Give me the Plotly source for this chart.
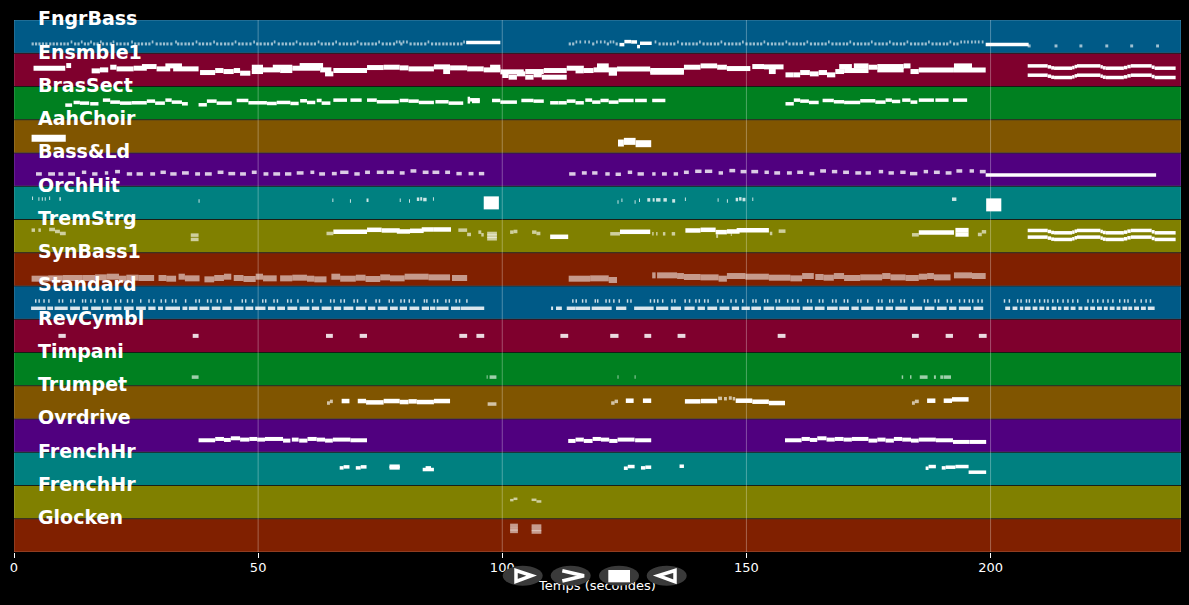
import plotly.graph_objects as go

TRACK_NAMES = ["FngrBass", "Ensmble1", "BrasSect", "AahChoir", "Bass&Ld", "OrchHit", "TremStrg", "SynBass1",
               "Standard", "RevCymbl", "Timpani", "Trumpet", "Ovrdrive", "FrenchHr", "FrenchHr", "Glocken"]
BAND_COLORS = ["#005a87", "#7f002d", "#008020", "#805500", "#50007f", "#008080", "#808000", "#802000"]
X_TICKS = [0, 50, 100, 150, 200]

# notes are (start seconds, end seconds, height inside the track, 0 = top of band, 1 = bottom)
FNGR_LOW = [3.6, 4.3, 5.0, 5.7, 6.4, 7.2, 7.9, 8.6, 9.4, 10.1, 10.8, 12.3, 13.0, 14.3, 15.0, 16.2, 16.9, 18.0, 18.8,
            19.6, 20.9, 21.6, 22.4, 23.1, 24.6, 25.3, 26.0, 26.8, 27.5, 29.0, 29.8, 30.5, 31.2, 32.0, 33.4, 34.1, 34.9,
            35.6, 36.4, 37.8, 38.5, 39.3, 40.0, 41.4, 42.2, 43.0, 43.7, 44.5, 45.9, 46.6, 47.4, 48.2, 49.6, 50.3, 51.1,
            51.8, 52.6, 54.0, 54.8, 55.5, 56.3, 57.0, 58.4, 59.2, 59.9, 60.7, 61.4, 62.8, 63.6, 64.3, 65.1, 66.5, 67.3,
            68.0, 68.8, 69.5, 70.9, 71.7, 72.4, 73.2, 73.9, 75.3, 76.1, 76.8, 77.6, 79.1, 81.0, 81.8, 82.5, 83.2, 84.0,
            85.4, 86.2, 86.9, 87.7, 88.4, 89.2, 89.9, 90.7, 91.4]
FNGR_HIGH = [11.6, 13.7, 15.6, 17.6, 20.2, 24.0, 28.2, 33.0, 37.2, 40.8, 45.2, 49.0, 53.2, 57.7, 62.2, 65.8, 70.2,
             74.6, 78.2, 78.8, 79.6, 80.3, 84.7, 92.0, 115.0, 115.8, 116.8, 117.6, 119.2, 120.0, 120.8, 122.0, 122.6]
FNGR_LOW_2 = [113.6, 114.3, 118.4, 121.4, 123.2, 132.0, 132.8, 133.5, 134.3, 135.0, 136.6, 137.4, 138.1, 138.9, 139.6,
              141.0, 141.8, 142.5, 143.3, 144.0, 145.4, 146.2, 146.9, 147.7, 148.4, 149.8, 150.6, 151.3, 152.1, 152.8,
              154.2, 155.0, 155.7, 156.5, 157.2, 158.6, 159.4, 160.1, 160.9, 161.6, 163.0, 163.8, 164.5, 165.3, 166.0,
              167.4, 168.2, 168.9, 169.7, 170.4, 171.8, 172.6, 173.3, 174.1, 174.8, 176.2, 177.0, 177.7, 178.5, 179.9,
              180.6, 181.4, 182.1, 183.5, 184.3, 185.0, 185.8, 186.5, 187.9, 188.7, 189.4, 190.2, 190.9, 192.3, 193.0]
FNGR_HIGH_2 = [131.2, 135.8, 140.3, 144.7, 149.1, 153.5, 158.0, 162.3, 166.7, 171.1, 175.5, 179.2, 182.8, 187.2,
               191.6, 193.8, 194.5, 195.2, 196.0, 196.7, 197.4, 198.2]
FNGR_TAIL = [207.6, 213.1, 218.2, 223.5, 228.6, 233.9]
FNGR_BARS = [(92.6, 99.6, 0.68), (124.0, 125.0, 0.74), (125.0, 126.4, 0.65), (126.4, 127.6, 0.66), (127.6, 128.2, 0.8),
             (128.2, 130.6, 0.7), (199.0, 207.8, 0.74)]

ENSEMBLE_NOTES = [
    (4.0, 10.5, 0.45), (10.7, 11.7, 0.37), (15.9, 17.6, 0.53), (17.6, 19.3, 0.5), (19.7, 21.0, 0.42), (21.0, 24.5, 0.47),
    (24.5, 27.2, 0.45), (26.2, 29.2, 0.4), (29.2, 32.0, 0.47), (31.0, 34.4, 0.38), (32.6, 37.8, 0.47), (38.1, 41.2, 0.58),
    (41.2, 42.9, 0.52), (42.9, 45.0, 0.55), (45.0, 46.3, 0.52), (46.3, 48.4, 0.6), (48.7, 51.0, 0.42), (48.7, 51.0, 0.55),
    (51.0, 54.5, 0.5), (53.0, 57.0, 0.42), (54.5, 57.0, 0.52), (57.0, 62.7, 0.45), (58.5, 63.3, 0.37), (62.7, 65.0, 0.5),
    (63.7, 65.4, 0.62), (65.4, 72.3, 0.52), (72.3, 75.7, 0.43), (75.7, 79.0, 0.42), (79.0, 80.8, 0.44), (80.8, 86.0, 0.47),
    (86.0, 89.3, 0.41), (87.9, 89.3, 0.55), (89.3, 92.8, 0.44), (92.8, 96.2, 0.47), (96.2, 99.6, 0.5), (97.5, 99.6, 0.42),
    (99.6, 104.4, 0.56), (100.0, 101.3, 0.67), (101.3, 103.0, 0.72), (103.0, 104.7, 0.62), (104.7, 106.4, 0.72),
    (106.4, 108.1, 0.65), (108.1, 113.2, 0.72), (104.7, 108.5, 0.55), (108.5, 113.2, 0.52), (113.2, 116.7, 0.45),
    (115.0, 116.7, 0.53), (116.7, 118.7, 0.52), (118.7, 123.5, 0.5), (119.4, 121.8, 0.38), (121.8, 123.5, 0.6),
    (123.5, 130.3, 0.47), (130.3, 137.2, 0.52), (130.3, 137.2, 0.57), (137.2, 140.6, 0.42), (140.6, 144.0, 0.38),
    (144.0, 146.0, 0.42), (146.0, 150.8, 0.46), (151.2, 153.6, 0.4), (153.6, 157.6, 0.41), (154.6, 156.0, 0.55),
    (158.0, 159.7, 0.65), (159.7, 161.0, 0.65), (161.0, 163.0, 0.58), (163.0, 164.8, 0.62), (164.8, 166.5, 0.58),
    (166.5, 168.2, 0.65), (168.2, 170.0, 0.55), (169.0, 171.6, 0.4), (170.0, 175.0, 0.52), (172.0, 175.0, 0.38),
    (175.0, 176.8, 0.42), (176.8, 182.2, 0.4), (176.8, 182.2, 0.5), (182.2, 183.6, 0.38), (183.6, 185.3, 0.55),
    (185.3, 192.5, 0.5), (192.5, 196.2, 0.38), (192.5, 199.0, 0.5),
]
ENSEMBLE_THIN = [
    (207.6, 211.7, 0.38), (211.7, 212.4, 0.41), (212.4, 213.0, 0.44), (213.0, 216.7, 0.45), (216.7, 217.2, 0.43),
    (217.2, 217.7, 0.4), (217.7, 222.5, 0.38), (222.5, 223.0, 0.41), (223.0, 223.6, 0.44), (223.6, 227.3, 0.45),
    (227.3, 228.0, 0.43), (228.0, 228.7, 0.4), (228.7, 233.0, 0.38), (233.0, 233.6, 0.42), (233.6, 237.9, 0.45),
    (207.6, 211.7, 0.66), (211.7, 212.4, 0.69), (212.4, 213.0, 0.72), (213.0, 216.7, 0.73), (216.7, 217.2, 0.71),
    (217.2, 217.7, 0.68), (217.7, 222.5, 0.66), (222.5, 223.0, 0.69), (223.0, 223.6, 0.72), (223.6, 227.3, 0.73),
    (227.3, 228.0, 0.71), (228.0, 228.7, 0.68), (228.7, 233.0, 0.66), (233.0, 233.6, 0.7), (233.6, 237.9, 0.73),
]
BRASS_NOTES = [
    (10.5, 11.9, 0.56), (12.2, 13.5, 0.48), (13.5, 15.4, 0.5), (15.6, 17.3, 0.52), (18.2, 19.7, 0.41), (19.7, 21.7, 0.47),
    (21.7, 24.1, 0.5), (24.1, 27.2, 0.49), (27.2, 28.9, 0.44), (28.9, 30.9, 0.5), (31.0, 32.3, 0.41), (32.3, 34.4, 0.47),
    (34.4, 35.6, 0.52), (37.8, 39.5, 0.55), (39.5, 41.5, 0.44), (41.5, 44.6, 0.5), (45.6, 48.0, 0.42), (48.0, 51.8, 0.49),
    (51.8, 53.8, 0.51), (53.8, 56.6, 0.48), (56.6, 58.3, 0.51), (58.6, 60.0, 0.43), (60.0, 61.7, 0.48), (62.0, 63.0, 0.42),
    (63.0, 64.8, 0.5), (65.4, 68.2, 0.41), (68.9, 71.2, 0.41), (72.3, 74.3, 0.41), (74.3, 78.8, 0.46), (79.0, 80.8, 0.42),
    (80.8, 82.9, 0.44), (82.9, 86.0, 0.48), (86.3, 89.0, 0.46), (89.0, 92.0, 0.5), (92.9, 93.4, 0.36), (92.9, 93.4, 0.46),
    (93.4, 95.4, 0.4), (93.8, 95.4, 0.45), (97.9, 99.6, 0.42), (99.6, 103.0, 0.47), (103.9, 106.4, 0.42), (106.4, 108.5, 0.44),
    (109.8, 111.5, 0.49), (111.5, 113.2, 0.49), (113.2, 115.0, 0.44), (115.0, 116.7, 0.49), (117.0, 118.4, 0.41),
    (118.4, 120.1, 0.47), (120.1, 121.8, 0.42), (121.8, 123.8, 0.47), (123.8, 126.9, 0.42), (127.2, 129.6, 0.42),
    (130.7, 133.4, 0.42), (158.0, 159.7, 0.52), (159.7, 161.0, 0.41), (161.0, 162.8, 0.44), (162.8, 164.8, 0.48),
    (165.6, 167.9, 0.42), (167.9, 170.0, 0.46), (170.0, 173.3, 0.48), (173.3, 176.4, 0.43), (176.4, 178.5, 0.47),
    (178.5, 179.8, 0.41), (179.8, 181.5, 0.45), (181.9, 183.6, 0.41), (183.6, 185.0, 0.47), (185.3, 188.4, 0.41),
    (188.7, 191.4, 0.41), (192.3, 195.2, 0.41),
]
AAH_NOTES = [(3.6, 10.6, 0.56), (123.7, 124.9, 0.7), (124.9, 127.3, 0.65), (127.3, 130.5, 0.72)]
BASS_LD_NOTES = [
    (4.5, 5.7, 0.63), (7.0, 8.4, 0.63), (9.1, 10.1, 0.63), (11.1, 12.5, 0.63), (13.9, 14.8, 0.58), (16.0, 17.1, 0.63),
    (18.6, 19.3, 0.6), (20.7, 21.7, 0.56), (23.1, 24.2, 0.63), (25.1, 26.4, 0.63), (27.9, 28.9, 0.63), (30.0, 31.1, 0.58),
    (32.0, 33.3, 0.63), (34.4, 35.8, 0.6), (37.1, 38.1, 0.63), (39.1, 40.5, 0.63), (41.7, 42.9, 0.58), (43.9, 45.3, 0.62),
    (46.3, 47.5, 0.63), (48.7, 49.7, 0.58), (51.1, 52.1, 0.63), (53.1, 54.5, 0.63), (55.5, 56.8, 0.63), (57.9, 59.3, 0.6),
    (60.7, 61.5, 0.58), (62.5, 63.7, 0.63), (65.1, 66.1, 0.62), (66.8, 68.5, 0.58), (69.7, 70.8, 0.63), (71.9, 72.9, 0.58),
    (74.3, 75.7, 0.58), (76.4, 77.8, 0.58), (79.0, 80.0, 0.6), (81.2, 82.4, 0.54), (83.7, 84.9, 0.58), (85.7, 87.1, 0.58),
    (88.3, 89.3, 0.58), (90.6, 91.7, 0.62), (93.1, 94.1, 0.62), (95.2, 96.3, 0.62), (113.7, 115.0, 0.63), (116.3, 117.3, 0.6),
    (118.4, 119.5, 0.6), (121.1, 122.0, 0.63), (123.2, 124.3, 0.64), (125.7, 126.6, 0.58), (127.7, 129.0, 0.63),
    (130.7, 131.4, 0.63), (132.7, 133.7, 0.63), (135.1, 136.0, 0.63), (137.2, 138.2, 0.58), (139.5, 140.8, 0.55),
    (141.5, 143.0, 0.55), (144.3, 145.2, 0.6), (146.5, 147.7, 0.53), (148.8, 150.0, 0.56), (151.0, 152.4, 0.56),
    (153.7, 154.6, 0.58), (155.7, 156.9, 0.6), (158.3, 159.3, 0.6), (160.4, 161.6, 0.58), (162.9, 163.9, 0.62),
    (165.1, 166.3, 0.54), (167.5, 168.6, 0.56), (169.8, 171.0, 0.58), (172.3, 173.5, 0.6), (174.4, 175.5, 0.6),
    (177.1, 178.0, 0.56), (179.1, 180.2, 0.6), (181.5, 182.6, 0.58), (183.5, 185.0, 0.62), (186.3, 187.2, 0.56),
    (188.4, 189.6, 0.58), (190.8, 192.0, 0.6), (193.0, 194.2, 0.54), (195.7, 196.6, 0.54), (197.8, 199.0, 0.56),
]
BASS_LD_LONG = [(199.0, 233.9, 0.66)]
ORCH_TICKS = [
    (3.7, 3.9, 0.36), (5.0, 5.2, 0.38), (5.7, 5.9, 0.38), (6.3, 6.5, 0.38), (7.2, 7.4, 0.36), (9.3, 9.6, 0.38),
    (37.8, 38.0, 0.44), (65.2, 65.4, 0.42), (68.8, 69.0, 0.44), (72.2, 72.6, 0.42), (79.0, 79.2, 0.42), (80.9, 81.1, 0.44),
    (82.5, 83.0, 0.39), (83.2, 83.6, 0.38), (83.8, 84.5, 0.4), (85.8, 86.0, 0.38), (123.6, 123.8, 0.47), (124.4, 124.6, 0.42),
    (127.1, 127.3, 0.47), (128.0, 128.2, 0.42), (129.7, 130.3, 0.41), (130.8, 131.2, 0.41), (131.5, 132.4, 0.41),
    (133.0, 133.7, 0.41), (134.8, 135.4, 0.44), (137.4, 137.6, 0.39), (144.1, 144.3, 0.41), (146.0, 146.2, 0.44),
    (147.8, 148.3, 0.4), (148.5, 149.0, 0.38), (149.2, 149.8, 0.4), (151.2, 151.4, 0.39), (192.1, 193.0, 0.39),
]
ORCH_BLOCKS = [(96.2, 99.3, 0.5), (199.1, 202.2, 0.56)]
TREM_PALE = [
    (3.6, 4.3, 0.32), (5.0, 5.5, 0.32), (7.2, 8.4, 0.3), (8.4, 9.4, 0.36), (9.4, 10.6, 0.42), (36.2, 37.8, 0.47),
    (36.2, 37.8, 0.6), (64.0, 65.4, 0.42), (92.8, 93.6, 0.45), (91.0, 92.8, 0.32), (95.1, 95.7, 0.38), (95.7, 96.2, 0.46),
    (96.9, 98.9, 0.42), (96.9, 98.9, 0.5), (96.9, 98.9, 0.58), (101.6, 102.3, 0.38), (102.3, 103.1, 0.36), (106.1, 107.0, 0.38),
    (107.0, 107.8, 0.42), (122.1, 124.1, 0.43), (130.7, 131.0, 0.43), (131.5, 131.8, 0.43), (132.9, 133.4, 0.43),
    (134.7, 135.4, 0.43), (143.8, 144.2, 0.5), (146.8, 147.0, 0.44), (154.8, 155.3, 0.42), (156.6, 158.0, 0.35),
    (183.9, 185.3, 0.46), (197.4, 198.2, 0.45), (198.2, 199.1, 0.37),
]
TREM_NOTES = [
    (65.4, 72.3, 0.37), (72.3, 75.3, 0.31), (75.3, 79.0, 0.33), (78.4, 81.1, 0.36), (81.1, 83.9, 0.34), (83.5, 86.0, 0.3),
    (86.0, 89.5, 0.3), (109.8, 113.5, 0.52), (124.1, 130.3, 0.37), (137.5, 140.6, 0.33), (140.6, 143.7, 0.31),
    (143.7, 146.0, 0.38), (146.0, 148.6, 0.36), (148.0, 154.6, 0.32), (185.3, 192.5, 0.39), (192.8, 195.5, 0.32),
    (192.8, 195.5, 0.45),
]
TREM_THIN = [
    (207.6, 211.7, 0.33), (211.7, 212.4, 0.36), (212.4, 213.0, 0.39), (213.0, 216.7, 0.4), (216.7, 217.2, 0.38),
    (217.2, 217.7, 0.35), (217.7, 222.5, 0.33), (222.5, 223.0, 0.36), (223.0, 223.6, 0.39), (223.6, 227.3, 0.4),
    (227.3, 228.0, 0.38), (228.0, 228.7, 0.35), (228.7, 233.0, 0.33), (233.0, 233.6, 0.37), (233.6, 237.9, 0.4),
    (207.6, 211.7, 0.53), (211.7, 212.4, 0.56), (212.4, 213.0, 0.59), (213.0, 216.7, 0.6), (216.7, 217.2, 0.58),
    (217.2, 217.7, 0.55), (217.7, 222.5, 0.53), (222.5, 223.0, 0.56), (223.0, 223.6, 0.59), (223.6, 227.3, 0.6),
    (227.3, 228.0, 0.58), (228.0, 228.7, 0.55), (228.7, 233.0, 0.53), (233.0, 233.6, 0.57), (233.6, 237.9, 0.6),
]
SYNBASS_NOTES = [
    (3.6, 7.0, 0.78), (7.0, 10.0, 0.77), (10.0, 14.0, 0.76), (14.0, 16.6, 0.76), (16.6, 19.0, 0.74), (19.0, 21.5, 0.72),
    (21.5, 23.0, 0.78), (23.0, 25.5, 0.75), (25.5, 28.7, 0.76), (29.6, 31.2, 0.76), (31.2, 33.2, 0.78), (33.7, 35.0, 0.72),
    (35.0, 38.0, 0.77), (39.0, 41.0, 0.8), (41.0, 43.0, 0.76), (43.0, 44.5, 0.72), (45.0, 47.0, 0.76), (47.0, 49.5, 0.79),
    (49.5, 51.0, 0.72), (51.0, 53.8, 0.77), (54.5, 57.0, 0.77), (57.0, 60.0, 0.75), (60.0, 61.5, 0.78), (61.5, 64.0, 0.8),
    (65.0, 66.8, 0.72), (66.8, 70.0, 0.78), (70.0, 72.0, 0.75), (72.0, 75.0, 0.79), (75.0, 77.0, 0.74), (77.0, 80.0, 0.77),
    (80.0, 81.1, 0.72), (81.1, 84.9, 0.72), (84.9, 89.3, 0.74), (89.7, 92.8, 0.76), (113.6, 118.0, 0.78), (118.0, 121.8, 0.77),
    (121.8, 123.5, 0.82), (130.7, 131.4, 0.68), (131.7, 135.8, 0.68), (135.8, 137.2, 0.7), (137.2, 140.6, 0.73),
    (140.6, 144.3, 0.74), (144.3, 146.0, 0.78), (146.0, 149.8, 0.7), (149.8, 154.6, 0.72), (154.6, 159.0, 0.75),
    (159.0, 161.4, 0.77), (161.4, 163.8, 0.7), (164.1, 165.8, 0.73), (165.8, 167.9, 0.75), (167.9, 170.0, 0.7),
    (170.0, 173.3, 0.76), (173.3, 177.8, 0.74), (177.8, 179.5, 0.7), (179.5, 182.6, 0.74), (182.6, 185.3, 0.76),
    (185.3, 187.0, 0.72), (187.0, 188.4, 0.7), (188.4, 191.8, 0.74), (192.5, 196.2, 0.68), (196.2, 199.0, 0.7),
]
STANDARD_TOP = [4.3, 5.0, 6.0, 7.0, 9.1, 9.8, 11.5, 12.2, 13.9, 14.5, 15.6, 16.4, 18.0, 19.0, 20.7, 21.7, 23.1, 24.1, 25.8,
                27.5, 28.5, 30.0, 30.9, 32.3, 33.0, 35.0, 37.1, 37.8, 39.5, 40.2, 41.5, 42.2, 44.3, 46.6, 47.3, 48.7, 50.8,
                51.4, 53.1, 53.8, 55.9, 56.6, 58.0, 60.0, 61.0, 62.7, 64.7, 65.4, 66.8, 67.5, 69.5, 70.2, 71.9, 74.0, 74.7,
                76.7, 77.4, 79.1, 79.8, 80.8, 81.8, 83.9, 84.4, 85.9, 86.6, 88.3, 89.0, 90.4, 91.1, 92.6, 114.3, 115.0,
                116.3, 117.0, 118.9, 119.4, 121.1, 121.8, 122.7, 123.8, 125.5, 126.2, 130.2, 131.0, 131.7, 132.7, 134.6,
                135.2, 137.3, 138.2, 139.5, 140.2, 141.3, 142.0, 144.0, 145.0, 146.7, 147.7, 149.1, 151.2, 151.8, 153.6,
                154.2, 155.9, 156.6, 158.3, 159.3, 160.4, 162.4, 163.1, 164.8, 165.5, 167.5, 168.2, 169.9, 170.6, 172.7,
                173.3, 174.7, 176.9, 177.6, 179.2, 179.8, 181.5, 182.2, 183.9, 186.3, 187.0, 188.5, 189.2, 191.0, 191.8,
                193.5, 194.5, 195.5, 196.2, 197.3, 198.1, 202.7, 203.7, 205.4, 206.1, 207.2, 207.8, 208.9, 209.9, 210.9,
                211.6, 212.6, 213.6, 214.7, 215.7, 216.7, 217.7, 219.8, 220.8, 221.8, 222.9, 223.9, 224.9, 226.3, 227.3,
                228.0, 229.4, 230.7, 231.7, 232.6]
STANDARD_ROW = [
    (3.5, 6.5), (6.8, 8.0), (8.3, 11.0), (11.5, 13.5), (14.0, 15.2), (15.8, 17.8), (18.2, 20.0), (20.4, 22.0), (22.5, 24.5),
    (25.0, 27.0), (27.5, 29.0), (29.5, 30.5), (31.0, 34.0), (34.5, 35.5), (35.8, 37.6), (38.0, 40.0), (40.5, 42.3),
    (42.7, 44.5), (45.0, 47.0), (47.4, 49.0), (49.4, 51.5), (52.0, 53.5), (53.9, 55.5), (56.0, 58.0), (58.5, 60.5),
    (61.0, 62.5), (63.0, 65.0), (65.5, 67.0), (67.5, 69.5), (70.0, 72.0), (72.5, 74.0), (74.5, 76.5), (77.0, 78.6),
    (79.0, 80.5), (81.0, 83.0), (83.5, 85.0), (85.2, 86.3), (86.5, 89.0), (89.5, 91.4), (91.5, 96.3), (110.0, 110.4),
    (111.0, 112.2), (113.2, 115.0), (115.0, 118.0), (118.3, 122.4), (123.3, 125.4), (127.0, 131.0), (131.5, 134.0),
    (134.5, 136.6), (137.3, 139.4), (140.0, 141.5), (142.0, 144.0), (144.5, 146.5), (147.0, 148.5), (149.0, 150.7),
    (151.0, 153.0), (153.5, 155.7), (156.0, 159.0), (159.0, 161.0), (161.5, 163.6), (164.0, 166.0), (166.5, 168.7),
    (169.0, 171.0), (171.5, 173.0), (173.5, 176.0), (176.5, 178.0), (178.5, 180.0), (180.5, 183.0), (183.5, 186.0),
    (186.5, 188.5), (189.0, 191.0), (191.5, 193.0), (193.5, 196.0), (196.5, 198.5), (203.0, 204.0), (204.5, 205.5),
    (206.0, 206.7), (207.0, 208.2), (208.6, 209.6), (210.0, 211.0), (211.4, 212.0), (212.5, 213.5), (213.8, 214.5),
    (215.0, 216.0), (216.4, 217.4), (218.0, 218.8), (219.2, 220.0), (220.4, 221.4), (221.8, 222.8), (223.2, 224.0),
    (224.4, 225.4), (225.8, 226.6), (227.0, 228.0), (228.2, 229.0), (229.4, 230.4), (230.8, 231.8), (232.2, 233.6),
]
REV_CYMBAL = [(9.1, 10.6), (36.6, 37.8), (63.9, 65.3), (70.8, 72.3), (91.2, 92.8), (94.7, 96.3), (111.9, 113.5),
              (122.1, 123.8), (129.1, 130.5), (135.9, 137.5), (156.4, 158.0), (183.9, 185.3), (190.8, 192.3), (197.6, 199.2)]
TIMPANI = [(36.4, 37.8), (96.8, 97.0), (97.4, 98.8), (123.6, 123.8), (127.1, 127.3), (181.8, 182.1), (183.5, 183.8),
           (185.5, 187.1), (188.4, 188.8), (189.7, 190.3), (190.4, 191.9)]
TRUMPET_NOTES = [
    (67.1, 68.7, 0.46), (70.4, 72.1, 0.46), (72.1, 75.7, 0.5), (75.7, 79.0, 0.46), (79.0, 80.8, 0.49), (80.8, 82.5, 0.47),
    (82.5, 86.0, 0.49), (86.0, 89.3, 0.46), (125.3, 126.9, 0.45), (128.8, 130.5, 0.45), (137.4, 140.6, 0.47),
    (140.7, 144.0, 0.46), (147.8, 151.2, 0.45), (151.2, 154.6, 0.48), (154.6, 157.9, 0.52), (187.0, 188.7, 0.45),
    (190.4, 192.1, 0.45), (192.1, 195.5, 0.41),
]
TRUMPET_PALE = [(64.1, 64.7, 0.52), (64.7, 65.3, 0.47), (97.0, 98.8, 0.55), (122.3, 123.0, 0.52), (123.0, 123.7, 0.47),
                (144.2, 145.0, 0.38), (145.4, 146.0, 0.39), (146.4, 147.0, 0.37), (147.2, 147.7, 0.39),
                (183.9, 184.5, 0.52), (184.5, 185.3, 0.47)]
OVERDRIVE_NOTES = [
    (37.8, 41.2, 0.64), (41.2, 43.0, 0.6), (43.0, 44.4, 0.63), (44.4, 46.3, 0.58), (46.3, 48.2, 0.62), (48.2, 49.8, 0.6),
    (49.8, 51.4, 0.62), (51.4, 55.1, 0.6), (55.1, 56.6, 0.65), (56.9, 58.3, 0.62), (58.4, 60.1, 0.65), (60.1, 62.0, 0.6),
    (62.0, 63.7, 0.62), (63.7, 65.3, 0.65), (65.3, 68.9, 0.62), (68.9, 72.3, 0.64), (113.5, 115.0, 0.66), (115.0, 116.7, 0.62),
    (116.7, 118.5, 0.66), (118.5, 120.2, 0.6), (120.2, 121.9, 0.62), (121.9, 123.6, 0.66), (123.6, 127.1, 0.62),
    (127.2, 130.5, 0.64), (157.9, 161.3, 0.64), (161.3, 163.0, 0.6), (163.0, 164.5, 0.63), (164.5, 166.4, 0.58),
    (166.4, 168.1, 0.62), (168.1, 169.9, 0.6), (169.9, 171.6, 0.62), (171.6, 175.0, 0.6), (175.0, 176.8, 0.65),
    (176.8, 178.5, 0.62), (178.5, 180.2, 0.65), (180.2, 181.9, 0.6), (181.9, 183.7, 0.62), (183.7, 185.3, 0.65),
    (185.3, 188.8, 0.62), (188.8, 192.3, 0.64), (192.3, 195.7, 0.69), (195.7, 199.1, 0.69),
]
FRENCH_NOTES = [
    (66.7, 67.5, 0.47), (67.5, 68.7, 0.44), (70.0, 71.0, 0.47), (71.0, 72.2, 0.44), (76.9, 79.0, 0.42), (76.9, 79.0, 0.47),
    (83.7, 86.0, 0.52), (84.3, 85.4, 0.47), (124.9, 125.7, 0.48), (125.7, 127.1, 0.43), (128.4, 129.3, 0.47),
    (129.3, 130.5, 0.45), (136.3, 137.2, 0.42), (186.7, 187.3, 0.48), (187.3, 188.8, 0.43), (190.0, 190.8, 0.47),
    (190.8, 192.8, 0.45), (192.8, 195.5, 0.43), (195.5, 199.1, 0.6),
]
FRENCH2_NOTES = [(101.6, 102.3, 0.44), (102.3, 103.1, 0.4), (106.0, 107.0, 0.43), (107.0, 108.0, 0.48)]
GLOCKEN_NOTES = [(101.6, 103.2, 0.2), (101.6, 103.2, 0.3), (101.6, 103.2, 0.38),
                 (106.0, 108.0, 0.22), (106.0, 108.0, 0.32), (106.0, 108.0, 0.4)]

PALE = "rgba(255,255,255,0.62)"
SOFT = "rgba(255,255,255,0.8)"
# track index, notes, line width in px, colour
VOICES = [
    (0, [(t, t + 0.45, 0.72) for t in FNGR_LOW + FNGR_LOW_2], 3, PALE),
    (0, [(t, t + 0.35, 0.66) for t in FNGR_HIGH + FNGR_HIGH_2], 3, PALE),
    (0, [(t, t + 0.6, 0.78) for t in FNGR_TAIL], 3, PALE),
    (0, FNGR_BARS, 3.5, "white"),
    (1, ENSEMBLE_NOTES, 5, "white"),
    (1, ENSEMBLE_THIN, 3.5, "white"),
    (2, BRASS_NOTES, 3.5, "white"),
    (3, AAH_NOTES, 7, "white"),
    (4, BASS_LD_NOTES, 3.5, SOFT),
    (4, BASS_LD_LONG, 3.5, "white"),
    (5, ORCH_TICKS, 3.5, SOFT),
    (5, ORCH_BLOCKS, 13, "white"),
    (6, TREM_PALE, 3.5, PALE),
    (6, TREM_NOTES, 4.5, "white"),
    (6, TREM_THIN, 3.5, "white"),
    (7, SYNBASS_NOTES, 6, "rgba(255,255,255,0.55)"),
    (8, [(t, t + 0.3, 0.45) for t in STANDARD_TOP], 3.5, SOFT),
    (8, [(a, b, 0.67) for a, b in STANDARD_ROW], 3.5, "rgba(255,255,255,0.85)"),
    (9, [(a, b, 0.5) for a, b in REV_CYMBAL], 4, "rgba(255,255,255,0.85)"),
    (10, [(a, b, 0.74) for a, b in TIMPANI], 3.5, PALE),
    (11, TRUMPET_NOTES, 4.5, "white"),
    (11, TRUMPET_PALE, 3.5, "rgba(255,255,255,0.65)"),
    (12, OVERDRIVE_NOTES, 4, "white"),
    (13, FRENCH_NOTES, 3.5, "white"),
    (14, FRENCH2_NOTES, 2.5, PALE),
    (15, GLOCKEN_NOTES, 3.5, "rgba(255,255,255,0.55)"),
]

X_MAX = 239
WIDTH, HEIGHT = 1189, 605
LEFT, RIGHT, TOP = 14, 8, 20
PLOT_BOTTOM = 552
PLOT_W = WIDTH - LEFT - RIGHT
PAPER_H = HEIGHT - TOP
STRIP = 0.08  # strip under the plot that holds the axis title


def px(x):
    return (x - LEFT) / PLOT_W


def py(y):
    return (HEIGHT - y) / PAPER_H


def poly(points, close=True):
    path = "M " + " L ".join(f"{px(a)} {py(b)}" for a, b in points)
    return path + " Z" if close else path


fig = go.Figure()

for idx, notes, width, color in VOICES:
    xs, ys = [], []
    for start, end, level in notes:
        xs += [start, end, None]
        ys += [idx + level, idx + level, None]
    fig.add_trace(go.Scatter(x=xs, y=ys, mode="lines", line=dict(color=color, width=width), hoverinfo="skip"))

# the title has to sit under the player buttons, shapes never cover a real axis title
fig.add_trace(go.Scatter(x=[119.5], y=[0.385], xaxis="x2", yaxis="y2", mode="text", text=["Temps (secondes)"],
                         textfont=dict(color="white", size=13, family="DejaVu Sans"), hoverinfo="skip"))

shapes = []
for i in range(len(TRACK_NAMES)):
    shapes.append(dict(type="rect", xref="x", yref="y", x0=0, x1=X_MAX, y0=i, y1=i + 1, layer="below",
                       fillcolor=BAND_COLORS[i % len(BAND_COLORS)], line=dict(color="rgba(255,255,255,0.25)", width=1)))
for i in range(1, len(TRACK_NAMES)):
    shapes.append(dict(type="line", xref="x", yref="y", x0=0, x1=X_MAX, y0=i, y1=i, layer="below",
                       line=dict(color="rgba(0,0,0,0.8)", width=1)))
for t in X_TICKS[1:]:
    shapes.append(dict(type="line", xref="x", yref="y", x0=t, x1=t, y0=0, y1=len(TRACK_NAMES), layer="below",
                       line=dict(color="rgba(255,255,255,0.3)", width=1)))

# player buttons
for cx in [522.7, 570.7, 619, 666.7]:
    shapes.append(dict(type="circle", xref="paper", yref="paper", x0=px(cx - 20), x1=px(cx + 20),
                       y0=py(585.7), y1=py(565.7), fillcolor="#3a3a3a", line=dict(width=0)))
white_line = dict(color="white", width=3.5)
shapes.append(dict(type="path", xref="paper", yref="paper", path=poly([(516, 570.5), (531.7, 575.7), (516, 581.5)]),
                   line=white_line))
shapes.append(dict(type="path", xref="paper", yref="paper",
                   path=poly([(562.3, 570.7), (584, 575.7), (562.3, 581)], close=False), line=white_line))
shapes.append(dict(type="rect", xref="paper", yref="paper", x0=px(608.3), x1=px(630), y0=py(582.3), y1=py(570),
                   fillcolor="white", line=dict(width=0)))
shapes.append(dict(type="path", xref="paper", yref="paper", path=poly([(675, 570.5), (658.3, 575.7), (675, 581.8)]),
                   line=white_line))

# yref paper: the first label sits above the top of the axis and would be dropped with yref y
band_h = (PLOT_BOTTOM - TOP) / len(TRACK_NAMES)
annotations = [
    dict(x=4.5, y=py(TOP + (i - 0.05) * band_h), xref="x", yref="paper", xanchor="left", yanchor="middle", text=name,
         showarrow=False, font=dict(family="DejaVu Sans", size=19, color="white", weight="bold"))
    for i, name in enumerate(TRACK_NAMES)
]

fig.update_layout(
    width=WIDTH, height=HEIGHT, autosize=False, showlegend=False,
    paper_bgcolor="black", plot_bgcolor="black",
    margin=dict(l=LEFT, r=RIGHT, t=TOP, b=0, pad=0),
    xaxis=dict(range=[0, X_MAX], tickvals=X_TICKS, showgrid=False, zeroline=False, ticks="outside", ticklen=5,
               tickcolor="white", ticklabelstandoff=-2, anchor="y",
               tickfont=dict(color="white", size=13, family="DejaVu Sans")),
    yaxis=dict(range=[len(TRACK_NAMES), 0], domain=[py(PLOT_BOTTOM), 1], showticklabels=False, showgrid=False,
               zeroline=False, ticks=""),
    xaxis2=dict(range=[0, X_MAX], domain=[0, 1], anchor="y2", visible=False),
    yaxis2=dict(range=[0, 1], domain=[0, STRIP], anchor="x2", visible=False),
    shapes=shapes, annotations=annotations,
)

fig.write_html("out.html", config=dict(displayModeBar=False),
               post_script="document.body.style.margin='0';document.body.style.background='black';")
